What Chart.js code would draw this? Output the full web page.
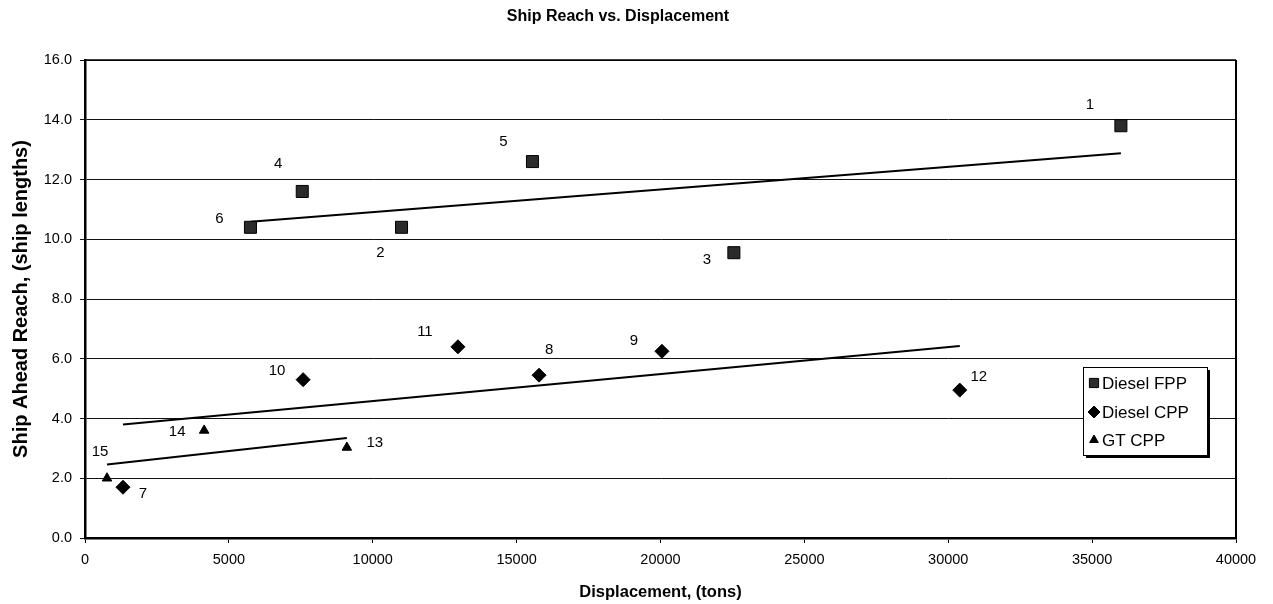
<!DOCTYPE html>
<html><head><meta charset="utf-8">
<script src="https://cdn.jsdelivr.net/npm/chart.js@4.4.1/dist/chart.umd.min.js"></script>
<style>html,body{margin:0;padding:0;background:#fff}#wrap{width:1273px;height:604px}</style>
</head><body><div id="wrap"><canvas id="c" width="1273" height="604"></canvas></div>
<script>
// ---------- data ----------
const fppIds = [1, 2, 3, 4, 5, 6];
const fppX   = [36000, 11000, 22550, 7550, 15550, 5750];
const fppY   = [13.8, 10.4, 9.55, 11.6, 12.6, 10.4];

const cppIds = [7, 8, 9, 10, 11, 12];
const cppX   = [1320, 15780, 20050, 7580, 12960, 30400];
const cppY   = [1.7, 5.45, 6.25, 5.3, 6.4, 4.95];

const gtIds  = [13, 14, 15];
const gtX    = [9100, 4140, 765];
const gtY    = [3.03, 3.6, 2.0];

const seriesNames = ['Diesel FPP', 'Diesel CPP', 'GT CPP'];
const xTickValues = [0, 5000, 10000, 15000, 20000, 25000, 30000, 35000, 40000];
const yTickValues = [0, 2, 4, 6, 8, 10, 12, 14, 16];

// ---------- label placement (style, in pixels) ----------
const labelOffsets = {
  1: [-31, -21], 2: [-21, 26], 3: [-27, 7], 4: [-24, -28], 5: [-29, -20], 6: [-31, -8],
  7: [20, 7], 8: [10, -25], 9: [-28, -10], 10: [-26, -9], 11: [-33, -15], 12: [19, -13],
  13: [28, -5], 14: [-27, 1], 15: [-7, -26]
};

function hasFont(name) {
  const c = document.createElement('canvas').getContext('2d');
  const s = 'Displacement 0123456789';
  c.font = '20px monospace'; const a = c.measureText(s).width;
  c.font = "20px '" + name + "', monospace"; const b = c.measureText(s).width;
  return Math.abs(a - b) > 0.5;
}
const SANS = "'Liberation Sans', Arial, Helvetica, sans-serif";
const narrowOK = hasFont('Liberation Sans Narrow');
const NARROW = narrowOK ? "'Liberation Sans Narrow', 'Liberation Sans', Arial, sans-serif" : SANS;
const nz = (narrowSize, sansSize) => narrowOK ? narrowSize : sansSize;

function pts(xs, ys) { return xs.map((x, i) => ({ x: x, y: ys[i] })); }
function trend(xs, ys) {
  const n = xs.length;
  const mx = xs.reduce((a, b) => a + b, 0) / n;
  const my = ys.reduce((a, b) => a + b, 0) / n;
  let sxy = 0, sxx = 0;
  for (let i = 0; i < n; i++) { sxy += (xs[i] - mx) * (ys[i] - my); sxx += (xs[i] - mx) ** 2; }
  const b = sxy / sxx, a = my - b * mx;
  const x0 = Math.min(...xs), x1 = Math.max(...xs);
  return [{ x: x0, y: a + b * x0 }, { x: x1, y: a + b * x1 }];
}

const seriesIds = [fppIds, cppIds, gtIds];

const pointLabels = {
  id: 'pointLabels',
  afterDatasetsDraw(chart) {
    const ctx = chart.ctx;
    ctx.save();
    ctx.fillStyle = '#000';
    ctx.font = '15px ' + SANS;
    ctx.textAlign = 'center';
    ctx.textBaseline = 'middle';
    for (let d = 0; d < 3; d++) {
      const meta = chart.getDatasetMeta(d);
      meta.data.forEach((el, i) => {
        const id = seriesIds[d][i];
        const off = labelOffsets[id];
        ctx.fillText(String(id), el.x + off[0], el.y + off[1]);
      });
    }
    ctx.restore();
  }
};

const frameAndLegend = {
  id: 'frameAndLegend',
  afterDraw(chart) {
    const ctx = chart.ctx, a = chart.chartArea;
    ctx.save();
    // right border of plot
    ctx.strokeStyle = '#000';
    ctx.lineWidth = 2;
    ctx.beginPath(); ctx.moveTo(a.right, a.top); ctx.lineTo(a.right, a.bottom); ctx.stroke();
    ctx.lineWidth = 1.5;
    ctx.beginPath(); ctx.moveTo(a.left, a.top); ctx.lineTo(a.right, a.top); ctx.stroke();
    // legend box
    const bx = 1083, by = 367, bw = 124, bh = 88;
    ctx.fillStyle = '#000';
    ctx.fillRect(bx + 3, by + 3, bw, bh);
    ctx.fillStyle = '#fff';
    ctx.fillRect(bx, by, bw, bh);
    ctx.lineWidth = 1;
    ctx.strokeStyle = '#000';
    ctx.strokeRect(bx + 0.5, by + 0.5, bw, bh);
    const rows = [383, 412, 440];
    ctx.font = '17px ' + SANS;
    ctx.textBaseline = 'middle';
    ctx.textAlign = 'left';
    for (let d = 0; d < 3; d++) {
      const ds = chart.data.datasets[d];
      const mx = 1094, my = rows[d];
      ctx.fillStyle = ds.backgroundColor;
      ctx.strokeStyle = '#000';
      ctx.lineWidth = 1;
      Chart.helpers.drawPoint(ctx, { pointStyle: ds.pointStyle, radius: ds.legendRadius, borderWidth: 1 }, mx, my);
      ctx.fillStyle = '#000';
      ctx.fillText(ds.label, 1102, my + 1);
    }
    ctx.restore();
  }
};

const datasets = [
  { label: seriesNames[0], data: pts(fppX, fppY), pointStyle: 'rect', pointRadius: 8.5, legendRadius: 6.5,
    backgroundColor: '#2b2b2b', borderColor: '#000', borderWidth: 1 },
  { label: seriesNames[1], data: pts(cppX, cppY), pointStyle: 'rectRot', pointRadius: 7, legendRadius: 6,
    backgroundColor: '#000', borderColor: '#000', borderWidth: 1 },
  { label: seriesNames[2], data: pts(gtX, gtY), pointStyle: 'triangle', pointRadius: 5.5, legendRadius: 5,
    backgroundColor: '#000', borderColor: '#000', borderWidth: 1 },
  { label: 'trend FPP', data: trend(fppX, fppY), showLine: true, pointRadius: 0, borderColor: '#000', borderWidth: 2, backgroundColor: '#000' },
  { label: 'trend CPP', data: trend(cppX, cppY), showLine: true, pointRadius: 0, borderColor: '#000', borderWidth: 2, backgroundColor: '#000' },
  { label: 'trend GT',  data: trend(gtX, gtY),  showLine: true, pointRadius: 0, borderColor: '#000', borderWidth: 2, backgroundColor: '#000' }
];

new Chart(document.getElementById('c'), {
  type: 'scatter',
  data: { datasets: datasets },
  options: {
    responsive: false,
    animation: false,
    devicePixelRatio: 1,
    layout: { padding: { left: 0, right: 37, top: 0, bottom: 0 } },
    plugins: {
      legend: { display: false },
      tooltip: { enabled: false },
      title: {
        display: true,
        text: 'Ship Reach vs. Displacement',
        color: '#000',
        font: { family: SANS, size: 16, weight: 'bold', lineHeight: 1.2 },
        padding: { top: 7.4, bottom: 33.4 }
      }
    },
    scales: {
      x: {
        type: 'linear', min: 0, max: 40000,
        afterBuildTicks: s => { s.ticks = xTickValues.map(v => ({ value: v })); },
        afterFit: s => { s.height = 66; },
        ticks: { color: '#000', padding: 8, maxRotation: 0, autoSkip: false,
          font: { family: NARROW, size: nz(17, 14.5) }, callback: v => String(v) },
        grid: { display: true, drawOnChartArea: false, drawTicks: true, tickLength: 5, color: '#000', lineWidth: 1 },
        border: { display: true, color: '#000', width: 2.5 },
        title: { display: true, text: 'Displacement, (tons)', color: '#000',
          font: { family: NARROW, size: nz(20, 16.5), weight: 'bold', lineHeight: 1.2 },
          padding: { top: 2, bottom: 2 } }
      },
      y: {
        type: 'linear', min: 0, max: 16,
        afterBuildTicks: s => { s.ticks = yTickValues.map(v => ({ value: v })); },
        afterFit: s => { s.width = 85; },
        ticks: { color: '#000', padding: 8, font: { family: NARROW, size: nz(17, 14.5) },
          callback: v => Number(v).toFixed(1) },
        grid: { display: true, drawOnChartArea: true, drawTicks: true, tickLength: 5, color: '#111', lineWidth: 1 },
        border: { display: true, color: '#000', width: 2.5 },
        title: { display: true, text: 'Ship Ahead Reach, (ship lengths)', color: '#000',
          font: { family: SANS, size: 20, weight: 'bold', lineHeight: 1.2 },
          padding: { top: 9, bottom: 0 } }
      }
    }
  },
  plugins: [pointLabels, frameAndLegend]
});
</script>
</body></html>
